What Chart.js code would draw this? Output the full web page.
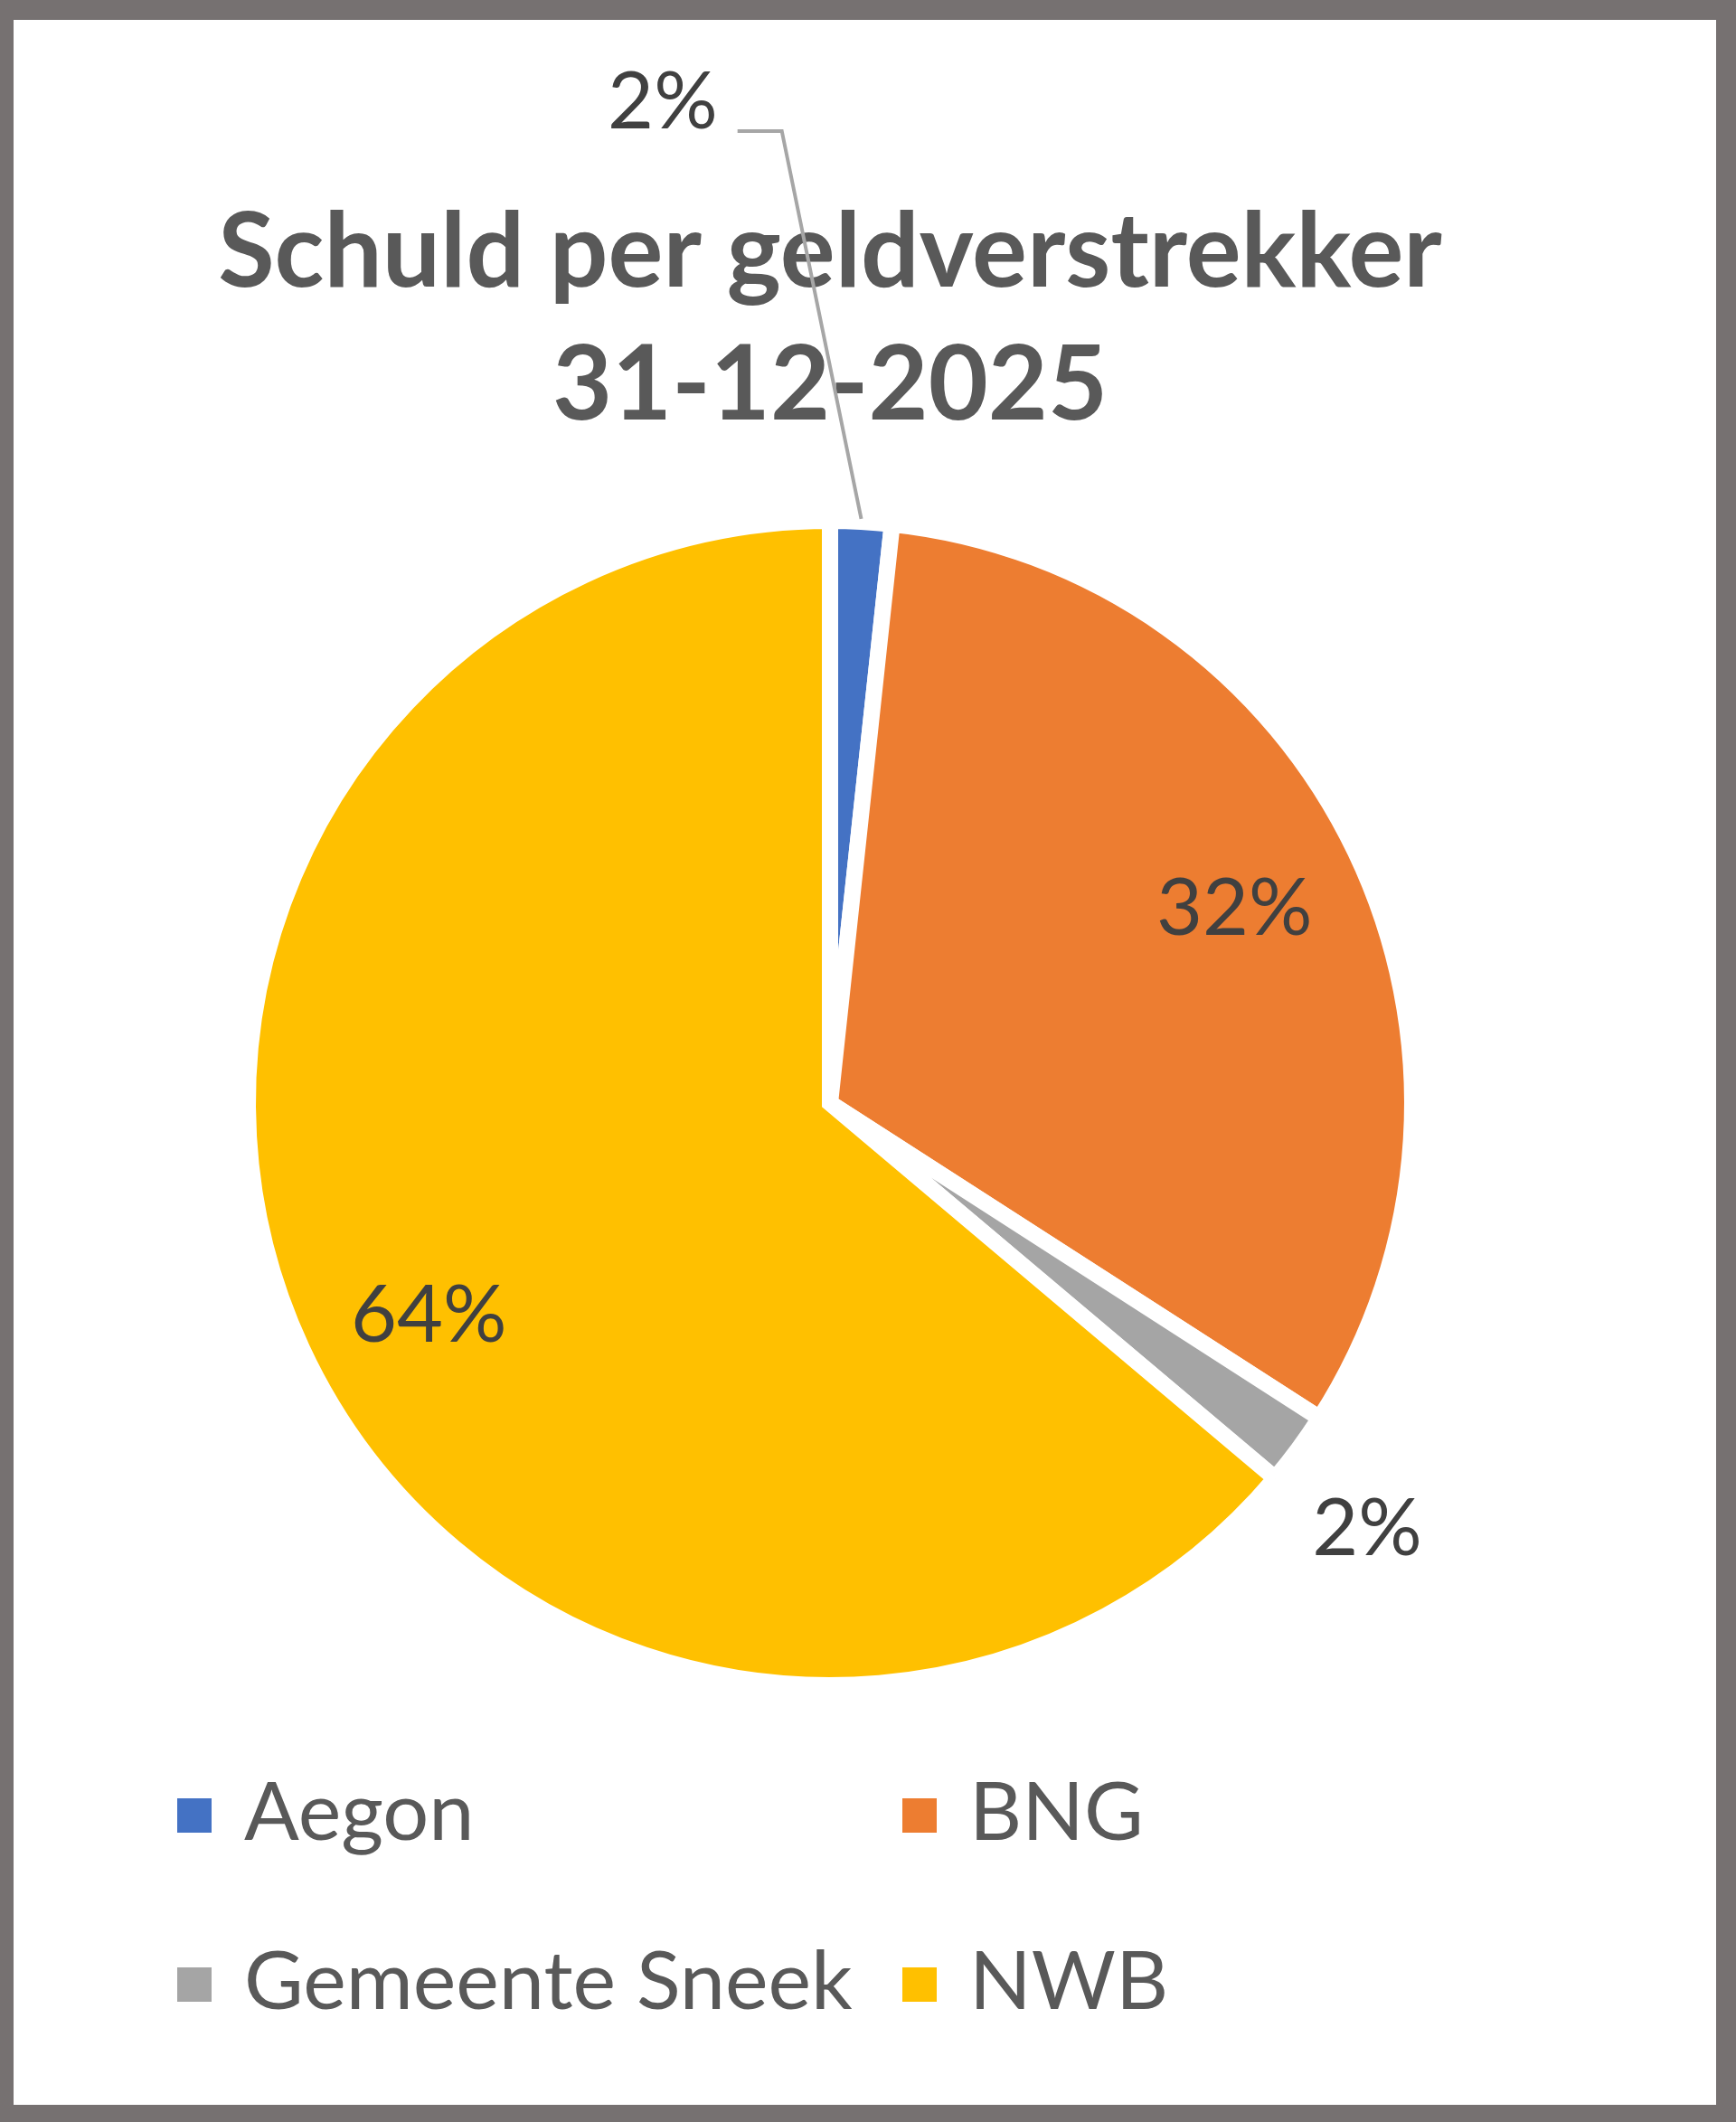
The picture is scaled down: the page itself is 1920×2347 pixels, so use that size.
<!DOCTYPE html>
<html>
<head>
<meta charset="utf-8">
<title>Schuld per geldverstrekker 31-12-2025</title>
<script src="https://cdn.jsdelivr.net/npm/chart.js@4.4.1/dist/chart.umd.min.js"></script>
<style>
  html, body { margin: 0; padding: 0; }
  body { width: 1920px; height: 2347px; background: #767171; position: relative; overflow: hidden; }
  #frame { position: absolute; left: 15px; top: 22px; width: 1883px; height: 2306px; background: #fff; }
  #frame canvas { display: block; }
</style>
</head>
<body>
<div id="frame"><canvas id="pie"></canvas></div>
<script>
// data (share of total debt, %)
const categories = ['Aegon', 'BNG', 'Gemeente Sneek', 'NWB'];
const shareValues = [1.7, 32.4, 2.05, 63.85];
const sliceColors = ['#4472C4', '#ED7D31', '#A5A5A5', '#FFC000'];
const titleLines = ['Schuld per geldverstrekker', '31-12-2025'];

const FONT = "Lato, 'Open Sans', sans-serif";

// where each percentage label sits (Excel-style placement, da in degrees)
const labelPlacement = [
  { mode: 'leader', dx: -219, dy: -472 },
  { mode: 'radial', r: 0.77, da: 0 },
  { mode: 'radial', r: 1.178, da: 2 },
  { mode: 'radial', r: 0.78, da: -3 }
];

const sliceLabels = {
  id: 'sliceLabels',
  afterDatasetsDraw(chart) {
    const ctx = chart.ctx;
    const meta = chart.getDatasetMeta(0);
    const data = chart.data.datasets[0].data;
    const total = data.reduce((a, b) => a + b, 0);
    ctx.save();
    ctx.font = `88px ${FONT}`;
    ctx.fillStyle = '#404040';
    ctx.textAlign = 'center';
    ctx.textBaseline = 'middle';
    meta.data.forEach((arc, i) => {
      const { x, y, startAngle, endAngle, outerRadius } =
        arc.getProps(['x', 'y', 'startAngle', 'endAngle', 'outerRadius'], true);
      const place = labelPlacement[i];
      const mid = (startAngle + endAngle) / 2 + (place.da || 0) * Math.PI / 180;
      const cos = Math.cos(mid);
      const sin = Math.sin(mid);
      const text = Math.round(data[i] / total * 100) + '%';
      if (place.mode === 'leader') {
        const edge = outerRadius - 9;
        const tx = x + cos * edge + place.dx;
        const ty = y + sin * edge + place.dy;
        const half = ctx.measureText(text).width / 2;
        ctx.strokeStyle = '#A6A6A6';
        ctx.lineWidth = 4;
        ctx.beginPath();
        ctx.moveTo(tx + half + 22, ty + 31);
        ctx.lineTo(tx + half + 71, ty + 31);
        ctx.lineTo(x + cos * (edge + 12), y + sin * (edge + 12));
        ctx.stroke();
        ctx.fillText(text, tx, ty);
      } else {
        ctx.fillText(text, x + cos * outerRadius * place.r, y + sin * outerRadius * place.r);
      }
    });
    ctx.restore();
  }
};

// two-column legend under the pie
const legendLayout = { columns: [181, 983], rows: [1986, 2173], box: 38, textGap: 74 };

const gridLegend = {
  id: 'gridLegend',
  afterDraw(chart) {
    const ctx = chart.ctx;
    const colors = chart.data.datasets[0].backgroundColor;
    ctx.save();
    ctx.font = `90px ${FONT}`;
    ctx.textAlign = 'left';
    ctx.textBaseline = 'middle';
    chart.data.labels.forEach((label, i) => {
      const left = legendLayout.columns[i % 2];
      const cy = legendLayout.rows[Math.floor(i / 2)];
      const s = legendLayout.box;
      ctx.fillStyle = colors[i];
      ctx.fillRect(left, cy - s / 2, s, s);
      ctx.fillStyle = '#595959';
      ctx.fillText(label, left + legendLayout.textGap, cy - 2);
    });
    ctx.restore();
  }
};

new Chart(document.getElementById('pie'), {
  type: 'pie',
  data: {
    labels: categories,
    datasets: [{
      data: shareValues,
      backgroundColor: sliceColors,
      borderColor: '#ffffff',
      borderWidth: 18,
      borderJoinStyle: 'miter',
      hoverOffset: 0
    }]
  },
  options: {
    responsive: true,
    maintainAspectRatio: false,
    animation: false,
    layout: { padding: { left: 0, right: 77, top: 0, bottom: 455 } },
    plugins: {
      legend: { display: false },
      tooltip: { enabled: false },
      title: {
        display: true,
        text: titleLines,
        color: '#595959',
        font: { family: FONT, size: 114, weight: 'bold', lineHeight: 1.294 },
        padding: { top: 184, bottom: 66 }
      }
    }
  },
  plugins: [sliceLabels, gridLegend]
});
</script>
</body>
</html>
